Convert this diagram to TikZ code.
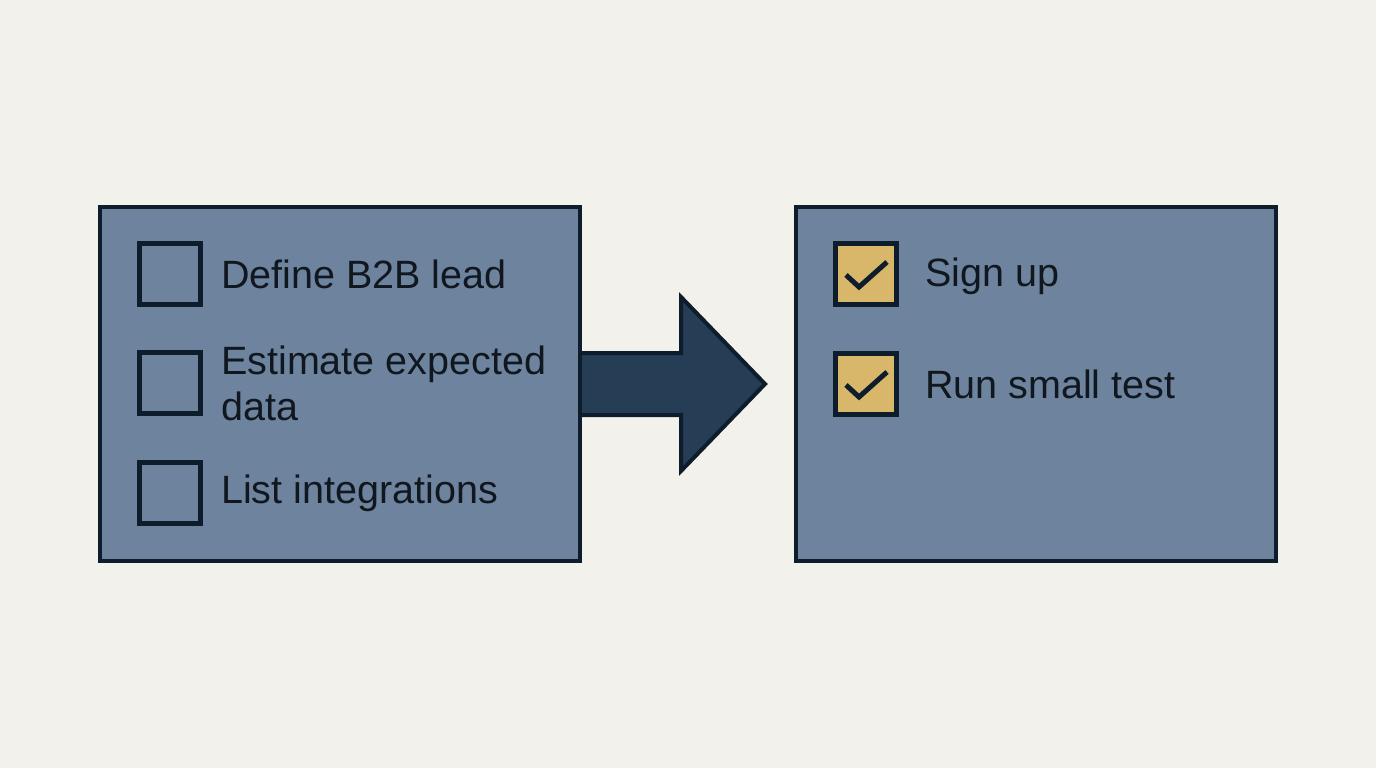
\documentclass[tikz,border=0pt]{standalone}
\usepackage{fontspec}
\setmainfont{Liberation Sans}
\usetikzlibrary{positioning,calc,backgrounds}
\definecolor{pagebg}{HTML}{F3F1EB}
\definecolor{cardfill}{HTML}{6E839E}
\definecolor{cardink}{HTML}{0E1D2C}
\definecolor{arrowfill}{HTML}{263D56}
\definecolor{donefill}{HTML}{D8B66A}
\definecolor{textink}{HTML}{10171F}

\begin{document}
\begin{tikzpicture}[
  x=1pt,
  y=-1pt,
  every node/.style={textink},
  card/.style={draw=cardink, fill=cardfill, line width=4pt,
    minimum width=480pt, minimum height=354pt, inner sep=0pt},
  todo/.style={draw=cardink, line width=5pt, minimum size=61pt, inner sep=0pt},
  done/.style={todo, fill=donefill},
  item/.style={font=\fontsize{39.5}{46}\selectfont, inner sep=0pt, align=left},
  tick/.style={cardink, line width=5pt, line cap=butt, line join=miter},
  bigarrow/.style={draw=cardink, fill=arrowfill, line width=4pt, line join=miter}
]
  \useasboundingbox (0,0) rectangle (1376,768);

  % ---- the two cards ----------------------------------------------------
  \node[card] (lbox) at (340,384) {};
  \node[card] (rbox) at (1036,384) {};

  % ---- page and arrow, both under the cards -----------------------------
  \coordinate (tip) at ($(lbox.east)+(183,0)$);
  \begin{pgfonlayer}{background}
    \fill[pagebg] (0,0) rectangle (1376,768);
    \draw[bigarrow]
      ($(lbox.east)+(-8,-31)$) -- ($(lbox.east)+(99,-31)$)
      -- ($(lbox.east)+(99,-87)$) -- (tip)
      -- ($(lbox.east)+(99,87)$) -- ($(lbox.east)+(99,31)$)
      -- ($(lbox.east)+(-8,31)$);
  \end{pgfonlayer}

  % ---- left card: open tasks --------------------------------------------
  \node[todo] (cb1) at (170,274) {};
  \node[todo] (cb2) at (170,383) {};
  \node[todo] (cb3) at (170,493) {};
  \node[item, right=18pt of cb1] (t1) {Define B2B lead};
  \node[item, right=18pt of cb2] (t2) {Estimate expected\\data};
  \node[item, right=18pt of cb3] (t3) {List integrations};

  % ---- right card: finished tasks ---------------------------------------
  \node[done] (ck1) at (866,274) {};
  \node[done] (ck2) at (866,384) {};
  \draw[tick] ($(ck1.center)+(-20,1)$) -- ($(ck1.center)+(-7,13)$)
    -- ($(ck1.center)+(21,-12)$);
  \draw[tick] ($(ck2.center)+(-20,1)$) -- ($(ck2.center)+(-7,13)$)
    -- ($(ck2.center)+(21,-12)$);
  \node[item, right=26pt of ck1, yshift=-2pt] (s1) {Sign up};
  \node[item, right=26pt of ck2] (s2) {Run small test};
\end{tikzpicture}
\end{document}
